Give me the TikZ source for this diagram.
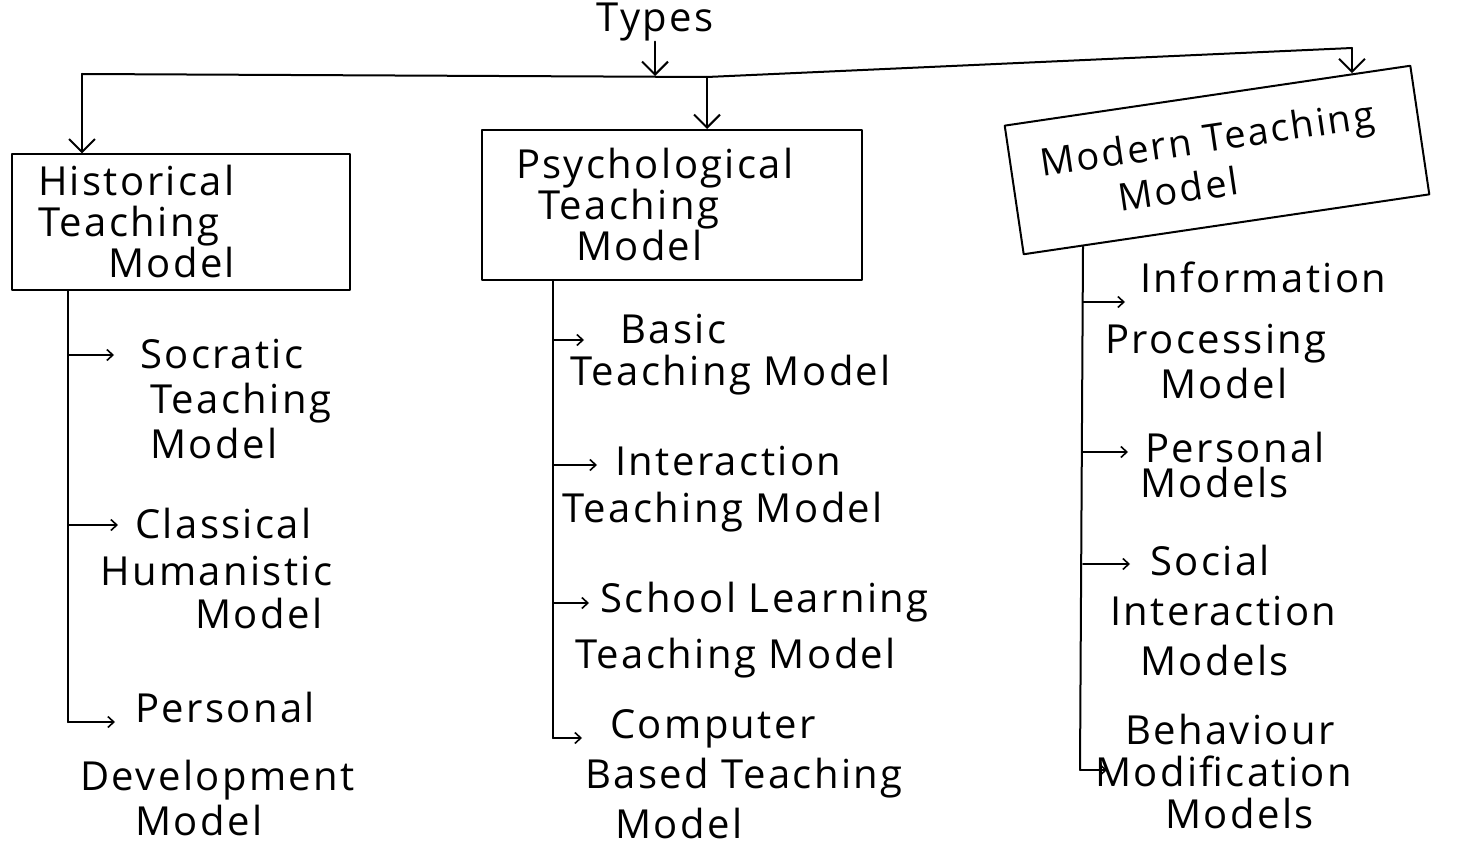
\documentclass[tikz,border=0pt]{standalone}
\usepackage{fontspec}
\setmainfont{Open Sans}[LetterSpace=6]
\usetikzlibrary{arrows.meta,calc}
\begin{document}
\begin{tikzpicture}[x=1pt,y=-1pt,
  ink/.style={line width=2pt, line cap=round, line join=round, draw=black},
  bigarrow/.style={ink, -{Straight Barb[length=13pt,width=26pt,line width=2pt]}},
  brarrow/.style={ink, line width=1.6pt, -{Straight Barb[length=6pt,width=11pt,line width=1.6pt]}},
  txt/.style={font=\fontsize{40}{46}\selectfont, inner sep=0pt, anchor=base west},
  box/.style={ink, draw, font=\fontsize{40}{41}\selectfont, align=left, inner ysep=0pt}
]
\useasboundingbox[fill=white] (0,0) rectangle (1462,845);

% title
\node[txt, anchor=north] (types) at (655,3) {Types};

% bar
\coordinate (bL) at (82,74);
\coordinate (bT) at (655,76);
\coordinate (bM) at (707,77);
\coordinate (bR) at (1352,48);
\draw[ink] (bL) -- (bM) -- (bR);

% boxes
\node[box, text width=286pt, inner xsep=26pt, minimum height=135pt] (hist) at (181,222)
  {Historical\\Teaching\\\hspace*{70pt}Model};
\node[box, text width=312pt, inner xsep=34pt, minimum height=150pt] (psych) at (672,205)
  {Psychological\\\hspace*{22pt}Teaching\\\hspace*{60pt}Model};
\node[box, font=\fontsize{38}{46}\selectfont, text width=350pt, inner xsep=30pt, minimum height=130pt, rotate=8.4] (modern) at (1217,160)
  {Modern Teaching\\\hspace*{72pt}Model};

% arrows to boxes
\draw[bigarrow] (types.south) -- (types.south |- bT);
\draw[bigarrow] (bL) -- (bL |- hist.north);
\draw[bigarrow] (bM) -- (bM |- psych.north);
\coordinate (mtop) at ($(modern.north west)!0.857!(modern.north east)$);
\draw[bigarrow] (bR) -- (bR |- mtop);

% ---------- left column ----------
\node[txt] (s1) at (140,368) {Socratic};
\node[txt] (s2) at (150,413) {Teaching};
\node[txt] (s3) at (150,458) {Model};
\node[txt] (c1) at (135,538) {Classical};
\node[txt] (c2) at (100,585) {Humanistic};
\node[txt] (c3) at (195,628) {Model};
\node[txt] (p1) at (135,722) {Personal};
\node[txt] (p2) at (80,790) {Development};
\node[txt] (p3) at (135,835) {Model};

\coordinate (a1) at (68,355);
\coordinate (a2) at (68,525);
\coordinate (a3) at (68,722);
\draw[ink] (hist.south -| a1) -- (a3);
\draw[brarrow, shorten >=26pt] (a1) -- (a1 -| s1.west);
\draw[brarrow, shorten >=17pt] (a2) -- (a2 -| c1.west);
\draw[brarrow, shorten >=20pt] (a3) -- (a3 -| p1.west);

% ---------- middle column ----------
\node[txt] (b1) at (620,343) {Basic};
\node[txt] (b2) at (570,385) {Teaching Model};
\node[txt] (i1) at (615,475) {Interaction};
\node[txt] (i2) at (562,522) {Teaching Model};
\node[txt] (l1) at (600,612) {School Learning};
\node[txt] (l2) at (575,668) {Teaching Model};
\node[txt] (m1) at (610,738) {Computer};
\node[txt] (m2) at (585,788) {Based Teaching};
\node[txt] (m3) at (615,838) {Model};

\coordinate (d1) at (553,340);
\coordinate (d2) at (553,465);
\coordinate (d3) at (553,603);
\coordinate (d4) at (553,738);
\draw[ink] (psych.south -| d1) -- (d4);
\draw[brarrow, shorten >=36pt] (d1) -- (d1 -| b1.west);
\draw[brarrow, shorten >=18pt] (d2) -- (d2 -| i1.west);
\draw[brarrow, shorten >=11pt] (d3) -- (d3 -| l1.west);
\draw[brarrow, shorten >=28pt] (d4) -- (d4 -| m1.west);

% ---------- right column ----------
\node[txt] (n1) at (1140,292) {Information};
\node[txt] (n2) at (1105,353) {Processing};
\node[txt] (n3) at (1160,398) {Model};
\node[txt] (q1) at (1145,462) {Personal};
\node[txt] (q2) at (1140,497) {Models};
\node[txt] (r1) at (1150,575) {Social};
\node[txt] (r2) at (1110,625) {Interaction};
\node[txt] (r3) at (1140,675) {Models};
\node[txt] (h1) at (1125,744) {Behaviour};
\node[txt] (h2) at (1095,786) {Modification};
\node[txt] (h3) at (1165,828) {Models};

\coordinate (e1) at (1083,302);
\coordinate (e2) at (1083,452);
\coordinate (e3) at (1083,564);
\coordinate (e4) at (1080,770);
\coordinate (mbot) at ($(modern.south west)!0.146!(modern.south east)$);
\draw[ink] (e1 |- mbot) -- (e4);
\draw[brarrow, shorten >=15pt] (e1) -- (e1 -| n1.west);
\draw[brarrow, shorten >=17pt] (e2) -- (e2 -| q1.west);
\draw[brarrow, shorten >=20pt] (e3) -- (e3 -| r1.west);
\draw[brarrow, shorten >=-12pt] (e4) -- (e4 -| h2.west);
\end{tikzpicture}
\end{document}
